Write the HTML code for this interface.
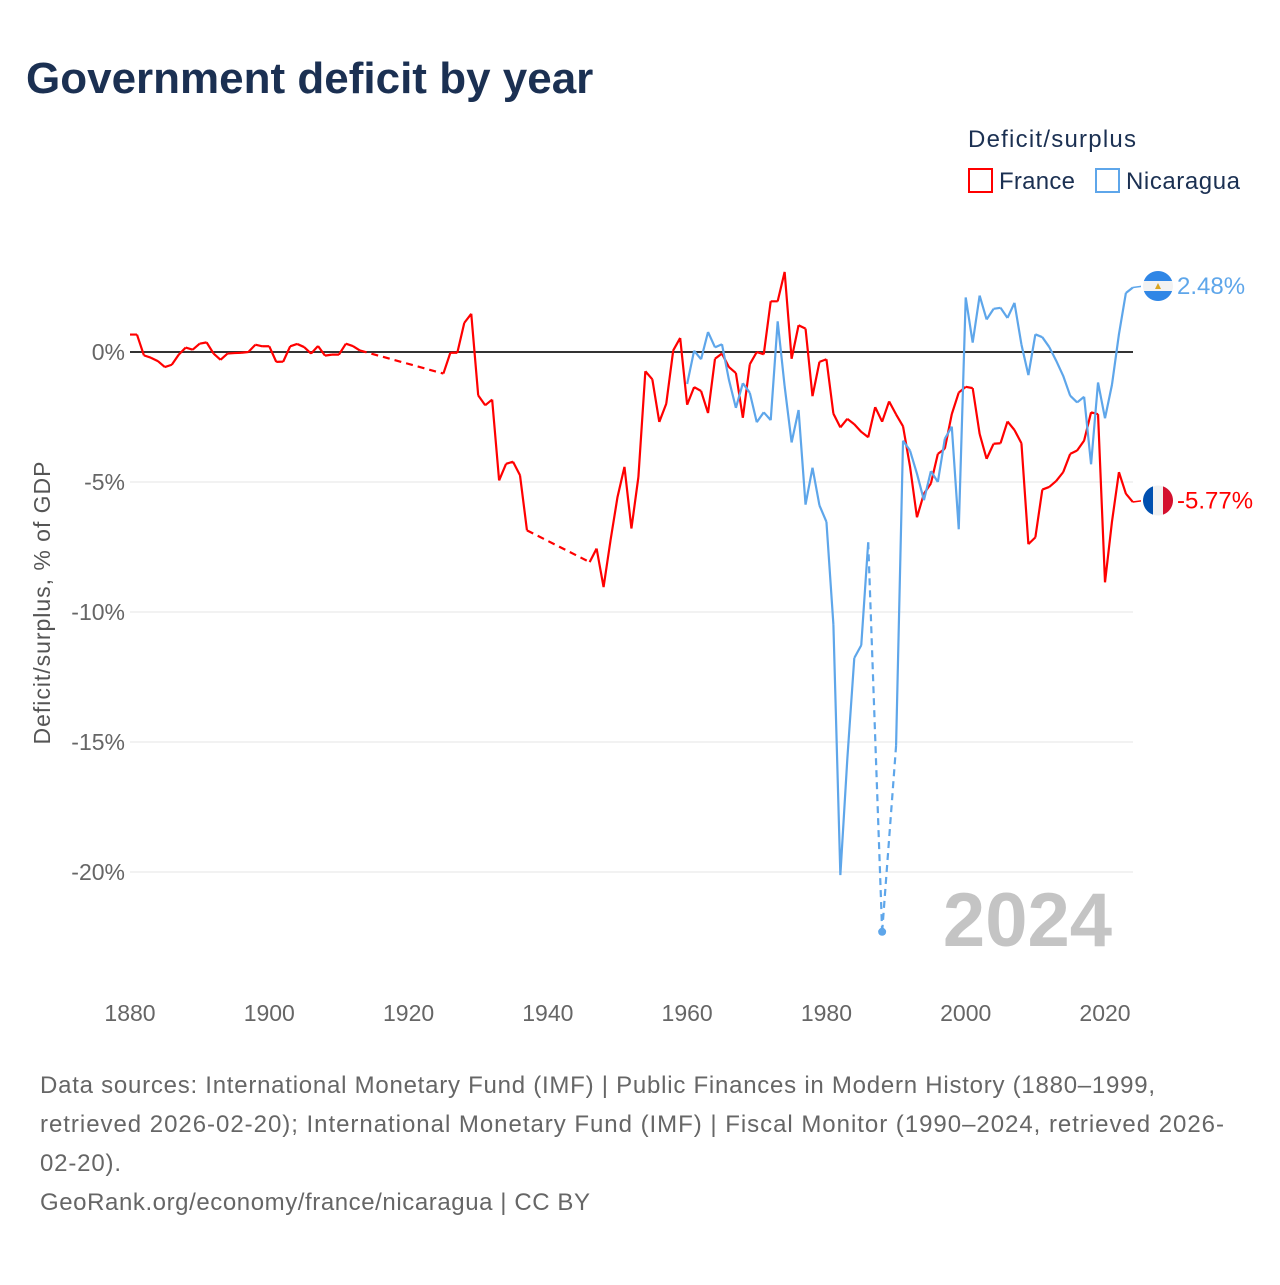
<!DOCTYPE html>
<html><head><meta charset="utf-8"><style>
body{margin:0;background:#fff;width:1280px;height:1280px;overflow:hidden;font-family:"Liberation Sans",sans-serif}
</style></head><body>
<svg width="1280" height="1280" viewBox="0 0 1280 1280" id="chart" xmlns="http://www.w3.org/2000/svg">
<text x="26" y="93" font-size="44" font-weight="bold" fill="#1b3052">Government deficit by year</text>
<text x="968" y="147" font-size="24" fill="#1b3052" textLength="168" lengthAdjust="spacing">Deficit/surplus</text>
<g><rect x="969" y="169" width="23" height="23" fill="none" stroke="#ff0000" stroke-width="2"/><text x="999" y="189" font-size="24" fill="#1b3052" textLength="76" lengthAdjust="spacing">France</text></g>
<g><rect x="1096" y="169" width="23" height="23" fill="none" stroke="#5ea6ea" stroke-width="2"/><text x="1126" y="189" font-size="24" fill="#1b3052" textLength="114" lengthAdjust="spacing">Nicaragua</text></g>
<text transform="translate(50,603) rotate(-90)" text-anchor="middle" font-size="23" fill="#555" textLength="283" lengthAdjust="spacing">Deficit/surplus, % of GDP</text>
<text x="1112" y="946" text-anchor="end" font-size="76" font-weight="bold" fill="#c4c4c4">2024</text>
<g id="grid"></g><g id="series"></g>
<g font-size="24" fill="#666">
<text x="40" y="1093" textLength="1115" lengthAdjust="spacing">Data sources: International Monetary Fund (IMF) | Public Finances in Modern History (1880–1999,</text>
<text x="40" y="1132" textLength="1184" lengthAdjust="spacing">retrieved 2026-02-20); International Monetary Fund (IMF) | Fiscal Monitor (1990–2024, retrieved 2026-</text>
<text x="40" y="1171" textLength="81" lengthAdjust="spacing">02-20).</text>
<text x="40" y="1210" textLength="550" lengthAdjust="spacing">GeoRank.org/economy/france/nicaragua | CC BY</text>
</g>
</svg>
<script>
const yTicks=[0,-5,-10,-15,-20];
const xTicks=[1880,1900,1920,1940,1960,1980,2000,2020];
const franceYears=[];for(let y=1880;y<=2024;y++)franceYears.push(y);
const franceValues=[0.67,0.67,-0.13,-0.22,-0.35,-0.58,-0.49,-0.1,0.17,0.09,0.32,0.37,-0.06,-0.3,-0.06,-0.04,-0.03,0,0.28,0.22,0.22,-0.38,-0.37,0.22,0.31,0.19,-0.06,0.23,-0.14,-0.1,-0.1,0.32,0.23,0.06,
null,null,null,null,null,null,null,null,null,null,null,
-0.83,-0.03,-0.03,1.12,1.47,-1.67,-2.05,-1.83,-4.94,-4.3,-4.22,-4.74,-6.86,
null,null,null,null,null,null,null,null,
-8.08,-7.56,-9.04,-7.24,-5.58,-4.42,-6.79,-4.81,-0.74,-1.05,-2.69,-1.99,0.06,0.54,
-2.03,-1.35,-1.5,-2.35,-0.26,-0.06,-0.58,-0.81,-2.53,-0.47,0,-0.09,1.95,1.95,3.08,-0.26,1.03,0.9,-1.7,-0.38,
-0.28,-2.37,-2.9,-2.57,-2.78,-3.07,-3.28,-2.12,-2.68,-1.9,-2.4,-2.86,-4.4,-6.36,-5.45,-5.06,-3.92,-3.72,-2.39,-1.56,
-1.34,-1.39,-3.15,-4.11,-3.53,-3.51,-2.67,-3.0,-3.51,-7.39,-7.13,-5.29,-5.19,-4.96,-4.62,-3.92,-3.79,-3.41,-2.32,-2.39,
-8.86,-6.53,-4.62,-5.45,-5.77];
const nicYears=[];for(let y=1960;y<=2024;y++)nicYears.push(y);
const nicValues=[-1.23,0.05,-0.28,0.77,0.18,0.3,-1.07,-2.15,-1.2,-1.57,-2.7,-2.32,-2.62,1.18,-1.32,-3.48,-2.23,-5.87,-4.45,-5.9,
-6.53,-10.48,-20.12,-15.65,-11.77,-11.28,-7.32,null,-22.3,null,-15.15,-3.41,-3.79,-4.68,-5.7,-4.58,-5.0,-3.34,-2.87,-6.82,
2.1,0.36,2.17,1.25,1.66,1.7,1.31,1.89,0.29,-0.89,0.68,0.57,0.19,-0.34,-0.92,-1.68,-1.94,-1.72,-4.32,-1.17,-2.55,-1.26,0.68,2.27,2.48];
const NS="http://www.w3.org/2000/svg";
const xs=yr=>130+(yr-1880)*(975/140);
const ys=v=>352-v*26;
function mk(tag,attrs,parent){const e=document.createElementNS(NS,tag);for(const k in attrs)e.setAttribute(k,attrs[k]);parent.appendChild(e);return e;}
const grid=document.getElementById('grid');
yTicks.forEach(t=>{
 const l=mk('line',{x1:130,x2:1133,y1:ys(t),y2:ys(t),stroke:t===0?'#333':'#e6e6e6','stroke-width':t===0?2:1},grid);
 
 
 const tx=mk('text',{x:125,y:ys(t)+8,'text-anchor':'end','font-size':23,fill:'#666'},grid);
 tx.textContent=t+'%';
 
 
});
xTicks.forEach(t=>{
 const tx=mk('text',{x:xs(t),y:1021,'text-anchor':'middle','font-size':23,fill:'#666'},grid);
 tx.textContent=t;
 
 
});
const ser=document.getElementById('series');
function drawSeries(years,vals,color,name){
 const g=mk('g',{},ser);
 
 
 let solid='',dashed='',prev=null,lastIdx=-1;
 const pts=[];
 for(let i=0;i<years.length;i++){
  if(vals[i]===null)continue;
  const p=[xs(years[i]),ys(vals[i])];
  if(prev){
   if(i-lastIdx===1)solid+=`M${prev[0]},${prev[1]}L${p[0]},${p[1]}`;
   else dashed+=`M${prev[0]},${prev[1]}L${p[0]},${p[1]}`;
  }
  pts.push({i,p});prev=p;lastIdx=i;
 }
 mk('path',{d:solid,fill:'none',stroke:color,'stroke-width':2.2,'stroke-linejoin':'round'},g);
 mk('path',{d:dashed,fill:'none',stroke:color,'stroke-width':2.2,'stroke-dasharray':'7,5'},g);
 pts.forEach(o=>{
  const i=o.i;
  const before=i>0&&vals[i-1]!==null, after=i<vals.length-1&&vals[i+1]!==null;
  if(!before&&!after){const c=mk('circle',{cx:o.p[0],cy:o.p[1],r:4,fill:color},g);
   
   }
 });
 return pts[pts.length-1].p;
}
const pf=drawSeries(franceYears,franceValues,'#ff0000','france');
const pn=drawSeries(nicYears,nicValues,'#5ea6ea','nicaragua');
function endLabel(p,color,val,name,flag){
 const g=mk('g',{},ser);
 
 
 const ly=p[1]-1.5;
 mk('line',{x1:p[0],y1:p[1],x2:1144,y2:ly,stroke:color,'stroke-width':1.5},g);
 const cx=1158;
 if(flag==='fr'){
  mk('rect',{x:cx-15,y:ly-15,width:10,height:30,fill:'#0050b0'},g);
  mk('rect',{x:cx-5,y:ly-15,width:10,height:30,fill:'#f2f2f2'},g);
  mk('rect',{x:cx+5,y:ly-15,width:10,height:30,fill:'#d4102e'},g);
 }else{
  mk('rect',{x:cx-15,y:ly-15,width:30,height:10,fill:'#2f86e6'},g);
  mk('rect',{x:cx-15,y:ly-5,width:30,height:10,fill:'#f2f2f2'},g);
  mk('rect',{x:cx-15,y:ly+5,width:30,height:10,fill:'#2f86e6'},g);
  mk('polygon',{points:`${cx-3},${ly+3} ${cx+3},${ly+3} ${cx},${ly-3}`,fill:'#d9a520'},g);
 }
 mk('path',{d:`M${cx-17},${ly-17}h34v34h-34z M${cx},${ly-15}a15,15 0 1,0 0.01,0z`,fill:'#fff','fill-rule':'evenodd'},g);
 const t=mk('text',{x:cx+19,y:ly+8,'font-size':24,fill:color},g);
 t.textContent=val;
}
endLabel(pn,'#5ea6ea','2.48%','nicaragua','ni');
endLabel(pf,'#ff0000','-5.77%','france','fr');
</script>
</body></html>
